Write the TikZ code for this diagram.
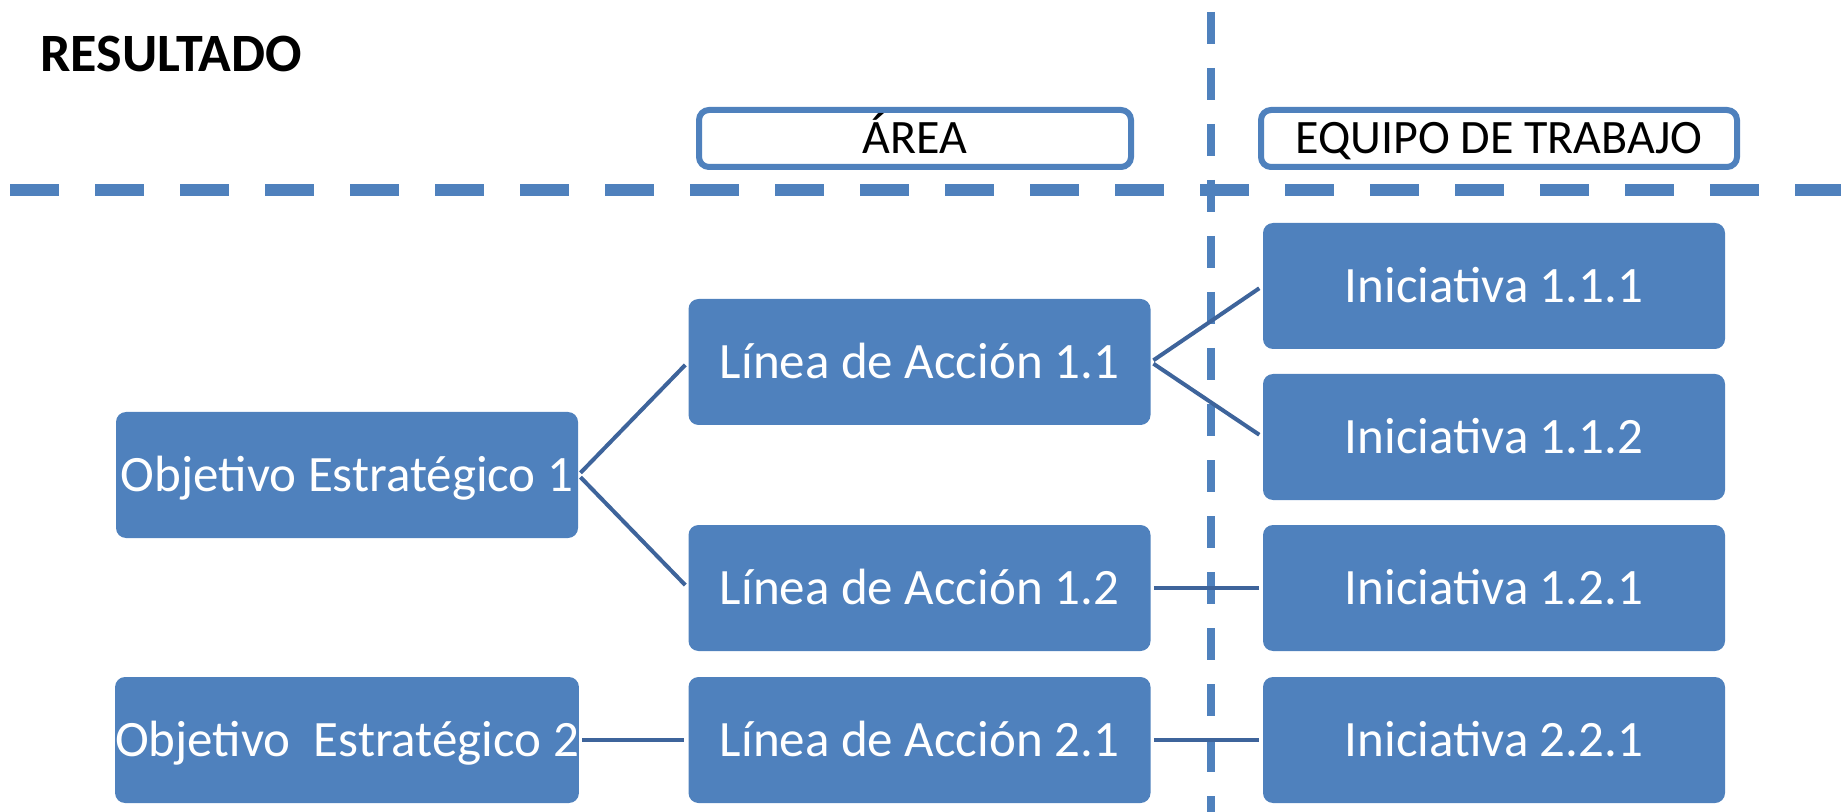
\documentclass[tikz,border=0pt]{standalone}
\usepackage{fontspec}
\setmainfont{Carlito}
\definecolor{boxblue}{RGB}{79,129,189}
\definecolor{linkblue}{RGB}{62,100,155}
\tikzset{
    caja/.style={
        fill=boxblue, text=white, rounded corners=5pt,
        minimum width=231pt, minimum height=63pt, inner sep=0pt,
        text height=16.4pt, text depth=0pt,
        font=\fontsize{25.5}{30}\selectfont
    },
    cabecera/.style={
        draw=boxblue, line width=3pt, fill=white, rounded corners=5pt,
        minimum width=216pt, minimum height=28.5pt, inner sep=0pt,
        text height=15.4pt, text depth=0pt,
        font=\fontsize{24}{28}\selectfont
    },
    enlace/.style={draw=linkblue, line width=2pt, shorten <=1.5pt, shorten >=2pt},
    corte/.style={draw=boxblue, line width=6pt, dash pattern=on 24.5pt off 18pt},
}

\begin{document}
\begin{tikzpicture}[x=0.5pt, y=-0.5pt]
    \useasboundingbox (0,0) rectangle (1841,812);

    \draw[corte] (10,190) -- (1841,190);
    \draw[boxblue, line width=4pt, dash pattern=on 16pt off 12pt] (1211,12) -- (1211,812);

    \node[anchor=base west, inner sep=0pt, font=\bfseries\fontsize{27}{32}\selectfont] (resultado) at (40,72) {RESULTADO};
    \node[cabecera] (area) at (915,138.5) {ÁREA};
    \node[cabecera, minimum width=238pt] (equipo) at (1499,138.5) {EQUIPO DE TRABAJO};

    \node[caja] (oe1) at (347,475) {Objetivo Estratégico 1};
    \node[caja] (oe2) at (347,740) {Objetivo~ Estratégico 2};

    \node[caja] (la11) at (919.5,362) {Línea de Acción 1.1};
    \node[caja] (la12) at (919.5,588) {Línea de Acción 1.2};
    \node[caja] (la21) at (919.5,740) {Línea de Acción 2.1};

    \node[caja] (in111) at (1494,286) {Iniciativa 1.1.1};
    \node[caja] (in112) at (1494,437) {Iniciativa 1.1.2};
    \node[caja] (in121) at (1494,588) {Iniciativa 1.2.1};
    \node[caja] (in221) at (1494,740) {Iniciativa 2.2.1};

    \draw[enlace] (oe1.east) -- (la11.west);
    \draw[enlace] (oe1.east) -- (la12.west);
    \draw[enlace] (oe2) -- (la21);
    \draw[enlace] (la11.east) -- (in111.west);
    \draw[enlace] (la11.east) -- (in112.west);
    \draw[enlace] (la12) -- (in121);
    \draw[enlace] (la21) -- (in221);
\end{tikzpicture}
\end{document}
